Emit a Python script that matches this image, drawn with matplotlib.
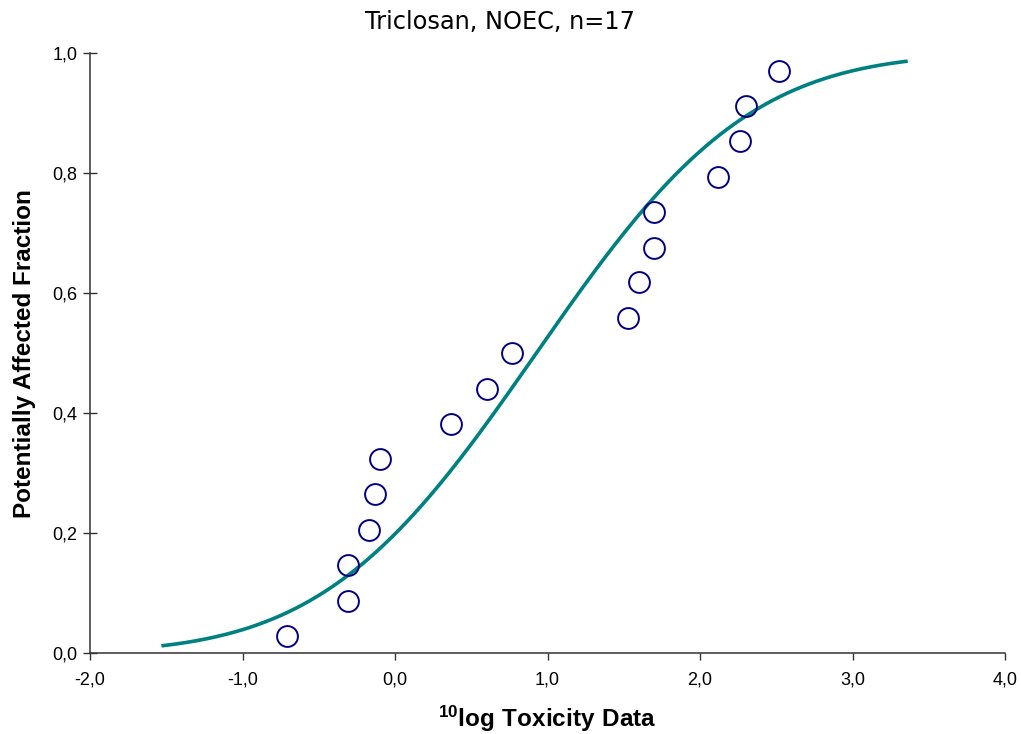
import math
import numpy as np
import matplotlib
matplotlib.use("Agg")
import matplotlib.pyplot as plt
from matplotlib.ticker import FuncFormatter

# log10 toxicity data (NOEC) and the plotted affected fraction
log_tox = [-0.71, -0.31, -0.31, -0.17, -0.13, -0.10, 0.37, 0.60, 0.77,
           1.53, 1.60, 1.70, 1.70, 2.12, 2.26, 2.30, 2.52]
paf = [0.029, 0.088, 0.147, 0.206, 0.265, 0.324, 0.382, 0.441, 0.500,
       0.559, 0.618, 0.676, 0.735, 0.794, 0.853, 0.912, 0.971]

# fitted log-normal SSD, drawn over this range
curve_start = -1.52
curve_end = 3.35

x_ticks = [-2.0, -1.0, 0.0, 1.0, 2.0, 3.0, 4.0]
y_ticks = [0.0, 0.2, 0.4, 0.6, 0.8, 1.0]

plt.rcParams['font.family'] = ['Liberation Sans', 'DejaVu Sans']
plt.rcParams['mathtext.fontset'] = 'custom'
plt.rcParams['mathtext.rm'] = 'Liberation Sans'
plt.rcParams['mathtext.bf'] = 'Liberation Sans:bold'

mu = np.mean(log_tox)
sd = np.std(log_tox, ddof=1)
xs = np.linspace(curve_start, curve_end, 300)
ys = np.array([0.5 * (1 + math.erf((v - mu) / (sd * math.sqrt(2)))) for v in xs])

fig = plt.figure(figsize=(10.21, 7.34), dpi=100)
ax = fig.add_axes([90 / 1021, 1 - 653.3 / 734, 915 / 1021, 600 / 734])

ax.plot(xs, ys, color='#008080', lw=2.6, zorder=2)
ax.plot(log_tox, paf, 'o', ms=15, mfc='none', mec='#000080', mew=1.4, zorder=3)

ax.set_xlim(-2, 4)
ax.set_ylim(0, 1)
ax.set_xticks(x_ticks)
ax.set_yticks(y_ticks)
fmt = FuncFormatter(lambda v, p: f"{v:.1f}".replace('.', ','))
ax.xaxis.set_major_formatter(fmt)
ax.yaxis.set_major_formatter(fmt)

for s in ['top', 'right']:
    ax.spines[s].set_visible(False)
for s in ['left', 'bottom']:
    ax.spines[s].set_color('#333333')
    ax.spines[s].set_linewidth(1.1)

ax.tick_params(axis='x', direction='out', length=5, width=1, color='#333333',
               labelsize=13, pad=8)
ax.tick_params(axis='y', direction='inout', length=10, width=1, color='#333333',
               labelsize=13, pad=4)

ax.set_xlabel(r'$\mathbf{^{10}log\ Toxicity\ Data}$', fontsize=17.5, labelpad=11)
ax.set_ylabel('Potentially Affected Fraction', fontsize=17.5, fontweight='bold',
              labelpad=12)

fig.text(500 / 1021, 1 - 22 / 734, 'Triclosan, NOEC, n=17', ha='center',
         va='center', fontsize=17.3, family='DejaVu Sans')

fig.savefig('out.png', dpi=100)
